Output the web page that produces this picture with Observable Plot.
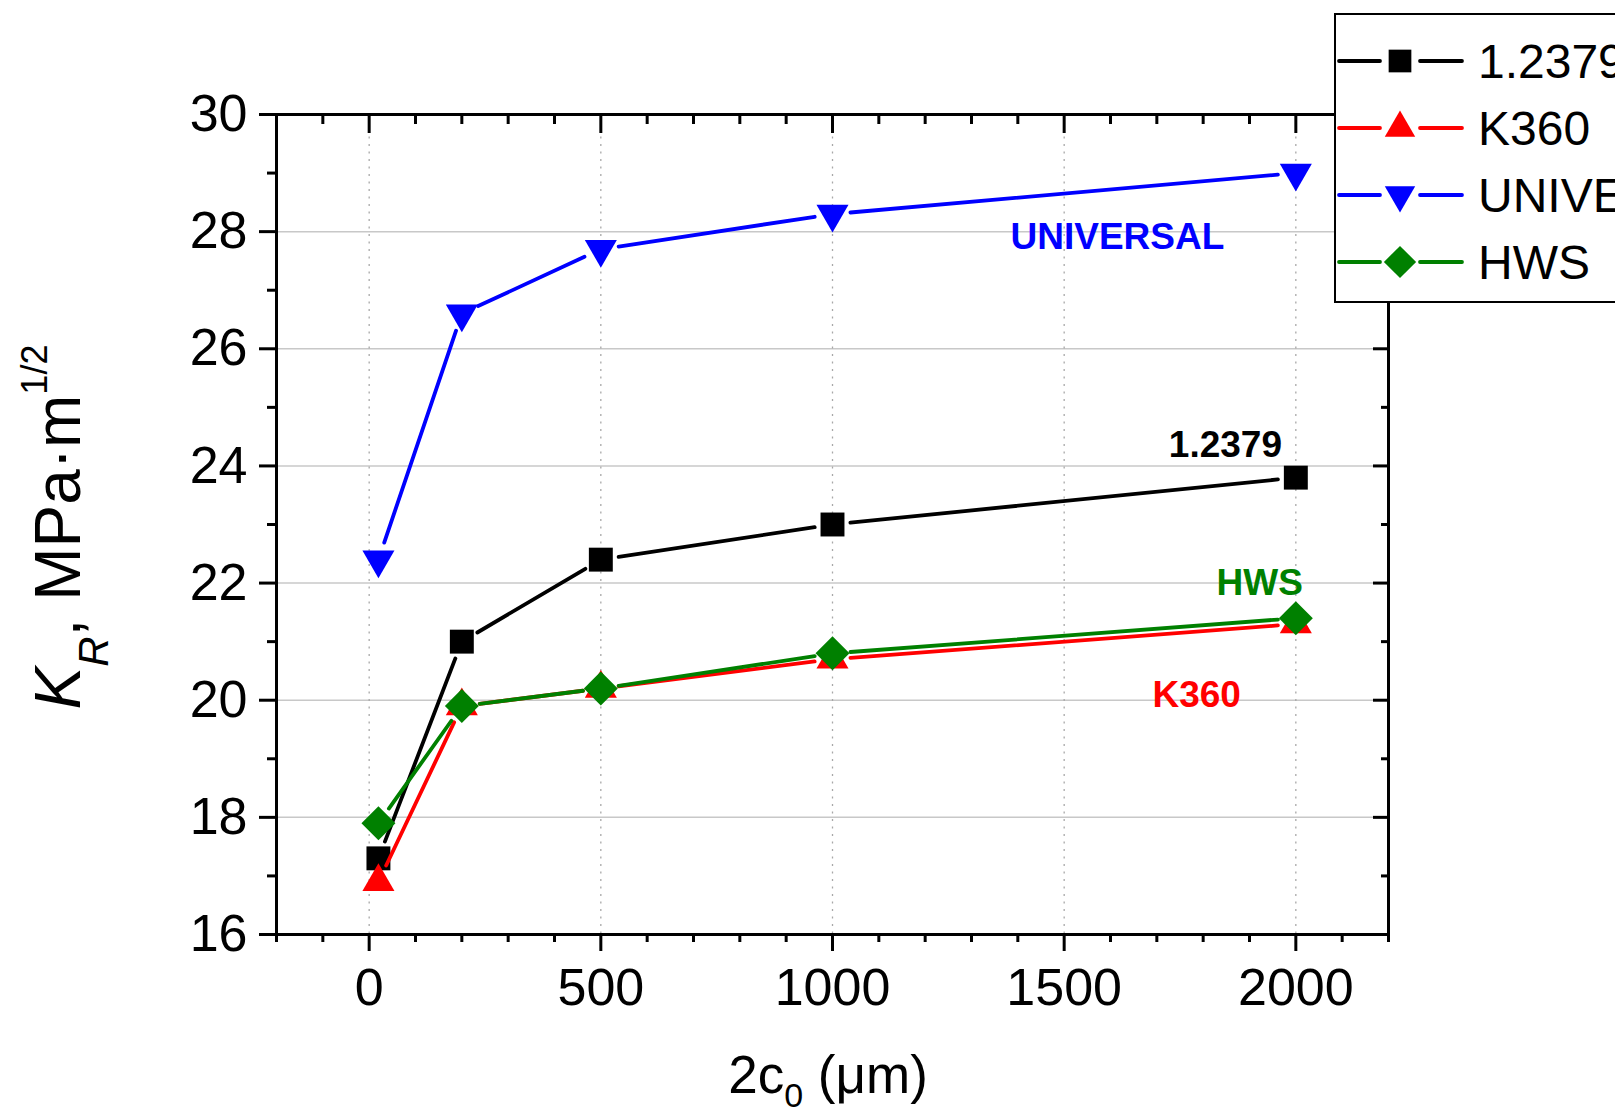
<!DOCTYPE html>
<html>
<head>
<meta charset="utf-8">
<script src="https://cdn.jsdelivr.net/npm/d3@7"></script>
<script src="https://cdn.jsdelivr.net/npm/@observablehq/plot@0.6"></script>
<style>
  html, body { margin: 0; padding: 0; background: #fff; overflow: hidden; }
  #chart { position: relative; width: 1615px; height: 1119px; overflow: hidden; }
  #chart svg { display: block; }
</style>
</head>
<body>
<div id="chart"></div>
<script>
// ---------------- data ----------------
const crackLength = [20, 200, 500, 1000, 2000];          // 2c0 (µm)
const seriesNames = ["1.2379", "K360", "UNIVERSAL", "HWS"];
const kr12379     = [17.3, 21.0, 22.4, 23.0, 23.8];
const krK360      = [16.9, 19.9, 20.2, 20.7, 21.3];
const krUniversal = [22.4, 26.6, 27.7, 28.3, 29.0];
const krHWS       = [17.9, 19.9, 20.2, 20.8, 21.4];

const xMajorTicks = [0, 500, 1000, 1500, 2000];
const xMinorTicks = [-200, -100, 100, 200, 300, 400, 600, 700, 800, 900, 1100, 1200, 1300, 1400,
                     1600, 1700, 1800, 1900, 2100, 2200];
const yMajorTicks = [16, 18, 20, 22, 24, 26, 28, 30];
const yMinorTicks = [17, 19, 21, 23, 25, 27, 29];
const yGridLines  = [18, 20, 22, 24, 26, 28];

// in-plot series labels (data coordinates)
const labelX = [1848, 1786, 1615, 1922];
const labelY = [24.16, 19.88, 27.71, 21.8];

// ---------------- styles ----------------
const colors  = ["#000000", "#ff0000", "#0000ff", "#008000"];
const symbols = ["square", "triangle", "triangle", "diamond2"];
const rotates = [0, 0, 180, 0];
const radii   = [13.5, 11.9, 11.9, 15.3];
const FONT = "'Liberation Sans', Arimo, Arial, Helvetica, sans-serif";
const fmt = d => String(d);
const LW = 3.8;

const W = 1615, H = 1119;
const values = [kr12379, krK360, krUniversal, krHWS];

const points = seriesNames.flatMap((name, i) =>
  crackLength.map((x, j) => ({series: name, x, y: values[i][j]})));
const segments = seriesNames.flatMap((name, i) =>
  d3.pairs(crackLength.map((x, j) => ({x, y: values[i][j]})))
    .map(([a, b]) => ({series: name, x1: a.x, y1: a.y, x2: b.x, y2: b.y})));
const labels = seriesNames.map((name, i) => ({text: name, x: labelX[i], y: labelY[i], color: colors[i]}));

const seriesMarks = seriesNames.map((name, i) => [
  Plot.arrow(segments.filter(d => d.series === name), {
    x1: "x1", y1: "y1", x2: "x2", y2: "y2",
    stroke: colors[i], strokeWidth: LW, headLength: 0, bend: 0,
    insetStart: 18, insetEnd: 18, strokeLinecap: "round"
  }),
  Plot.dot(points.filter(d => d.series === name), {
    x: "x", y: "y", symbol: symbols[i], r: radii[i], rotate: rotates[i],
    fill: colors[i], stroke: "none"
  })
]);

const chart = Plot.plot({
  width: W,
  height: H,
  marginLeft: 276,
  marginRight: W - 1388,
  marginTop: 114,
  marginBottom: H - 934,
  style: {fontFamily: FONT, fontSize: "52px", background: "#fff", color: "#000"},
  x: {domain: [-200, 2200]},
  y: {domain: [16, 30]},
  marks: [
    Plot.ruleY(yGridLines, {stroke: "#c8c8c8", strokeWidth: 1.5}),
    Plot.ruleX(xMajorTicks, {stroke: "#a8a8a8", strokeWidth: 1.3, strokeDasharray: "2,5.5"}),
    ...seriesMarks,
    Plot.frame({stroke: "#000", strokeWidth: 3}),
    // left axis
    Plot.axisY(yMajorTicks, {anchor: "left", tickSize: 17, tickPadding: 12, fontSize: 52, strokeWidth: 3, label: null, tickFormat: fmt}),
    Plot.axisY(yMinorTicks, {anchor: "left", tickSize: 9, fill: "none", strokeWidth: 3, label: null}),
    // right axis (inward)
    Plot.axisY(yMajorTicks, {anchor: "right", tickSize: 16, dx: -16, fill: "none", strokeWidth: 3, label: null}),
    Plot.axisY(yMinorTicks, {anchor: "right", tickSize: 8, dx: -8, fill: "none", strokeWidth: 3, label: null}),
    // bottom axis
    Plot.axisX(xMajorTicks, {anchor: "bottom", tickSize: 17, tickPadding: 17, fontSize: 52, strokeWidth: 3, label: null, tickFormat: fmt}),
    Plot.axisX(xMinorTicks, {anchor: "bottom", tickSize: 8, fill: "none", strokeWidth: 3, label: null}),
    // top axis (inward)
    Plot.axisX(xMajorTicks, {anchor: "top", tickSize: 18, dy: 18, fill: "none", strokeWidth: 3, label: null}),
    Plot.axisX(xMinorTicks, {anchor: "top", tickSize: 9, dy: 9, fill: "none", strokeWidth: 3, label: null}),
    // in-plot labels
    Plot.text(labels, {x: "x", y: "y", text: "text", fill: d => d.color, fontWeight: "bold",
                       fontSize: 37, textAnchor: "middle", lineAnchor: "bottom"})
  ]
});

document.getElementById("chart").appendChild(chart);
const svg = d3.select(chart);

// x-axis title: 2c0 (µm)
const xt = svg.append("text")
  .attr("x", 828).attr("y", 1093)
  .attr("text-anchor", "middle")
  .attr("font-family", FONT).attr("font-size", 53).attr("fill", "#000");
xt.append("tspan").text("2c");
xt.append("tspan").attr("font-size", 34).attr("dy", 14).text("0");
xt.append("tspan").attr("dy", -14).text(" (\u03bcm)");

// y-axis title: K_R, MPa·m^1/2
const yt = svg.append("text")
  .attr("transform", "translate(80,527) rotate(-90)")
  .attr("text-anchor", "middle")
  .attr("font-family", FONT).attr("font-size", 64).attr("fill", "#000");
yt.append("tspan").attr("font-style", "italic").text("K");
yt.append("tspan").attr("font-style", "italic").attr("font-size", 42).attr("dy", 28).text("R");
yt.append("tspan").attr("dy", -28).text(", MPa\u00b7m");
yt.append("tspan").attr("font-size", 36).attr("dy", -33).text("1/2");

// legend (box at top-right, partially outside the page as in the original)
const lg = svg.append("g").attr("font-family", FONT).attr("text-anchor", "start");
lg.append("rect")
  .attr("x", 1335).attr("y", 14).attr("width", 330).attr("height", 288)
  .attr("fill", "#fff").attr("stroke", "#000").attr("stroke-width", 2);
seriesNames.forEach((name, i) => {
  const cy = 61 + 67 * i;
  const row = lg.append("g");
  row.append("line").attr("x1", 1339).attr("x2", 1380).attr("y1", cy).attr("y2", cy)
    .attr("stroke", colors[i]).attr("stroke-width", LW).attr("stroke-linecap", "round");
  row.append("line").attr("x1", 1420).attr("x2", 1462).attr("y1", cy).attr("y2", cy)
    .attr("stroke", colors[i]).attr("stroke-width", LW).attr("stroke-linecap", "round");
  const symType = {square: d3.symbolSquare, triangle: d3.symbolTriangle, diamond2: d3.symbolDiamond2}[symbols[i]];
  row.append("path")
    .attr("d", d3.symbol(symType, Math.PI * radii[i] * radii[i] * 0.9)())
    .attr("transform", `translate(1400,${cy}) rotate(${rotates[i]})`)
    .attr("fill", colors[i]);
  row.append("text").attr("x", 1478).attr("y", cy + 17)
    .attr("text-anchor", "start")
    .attr("font-size", 48).attr("fill", "#000").text(name);
});
</script>
</body>
</html>
